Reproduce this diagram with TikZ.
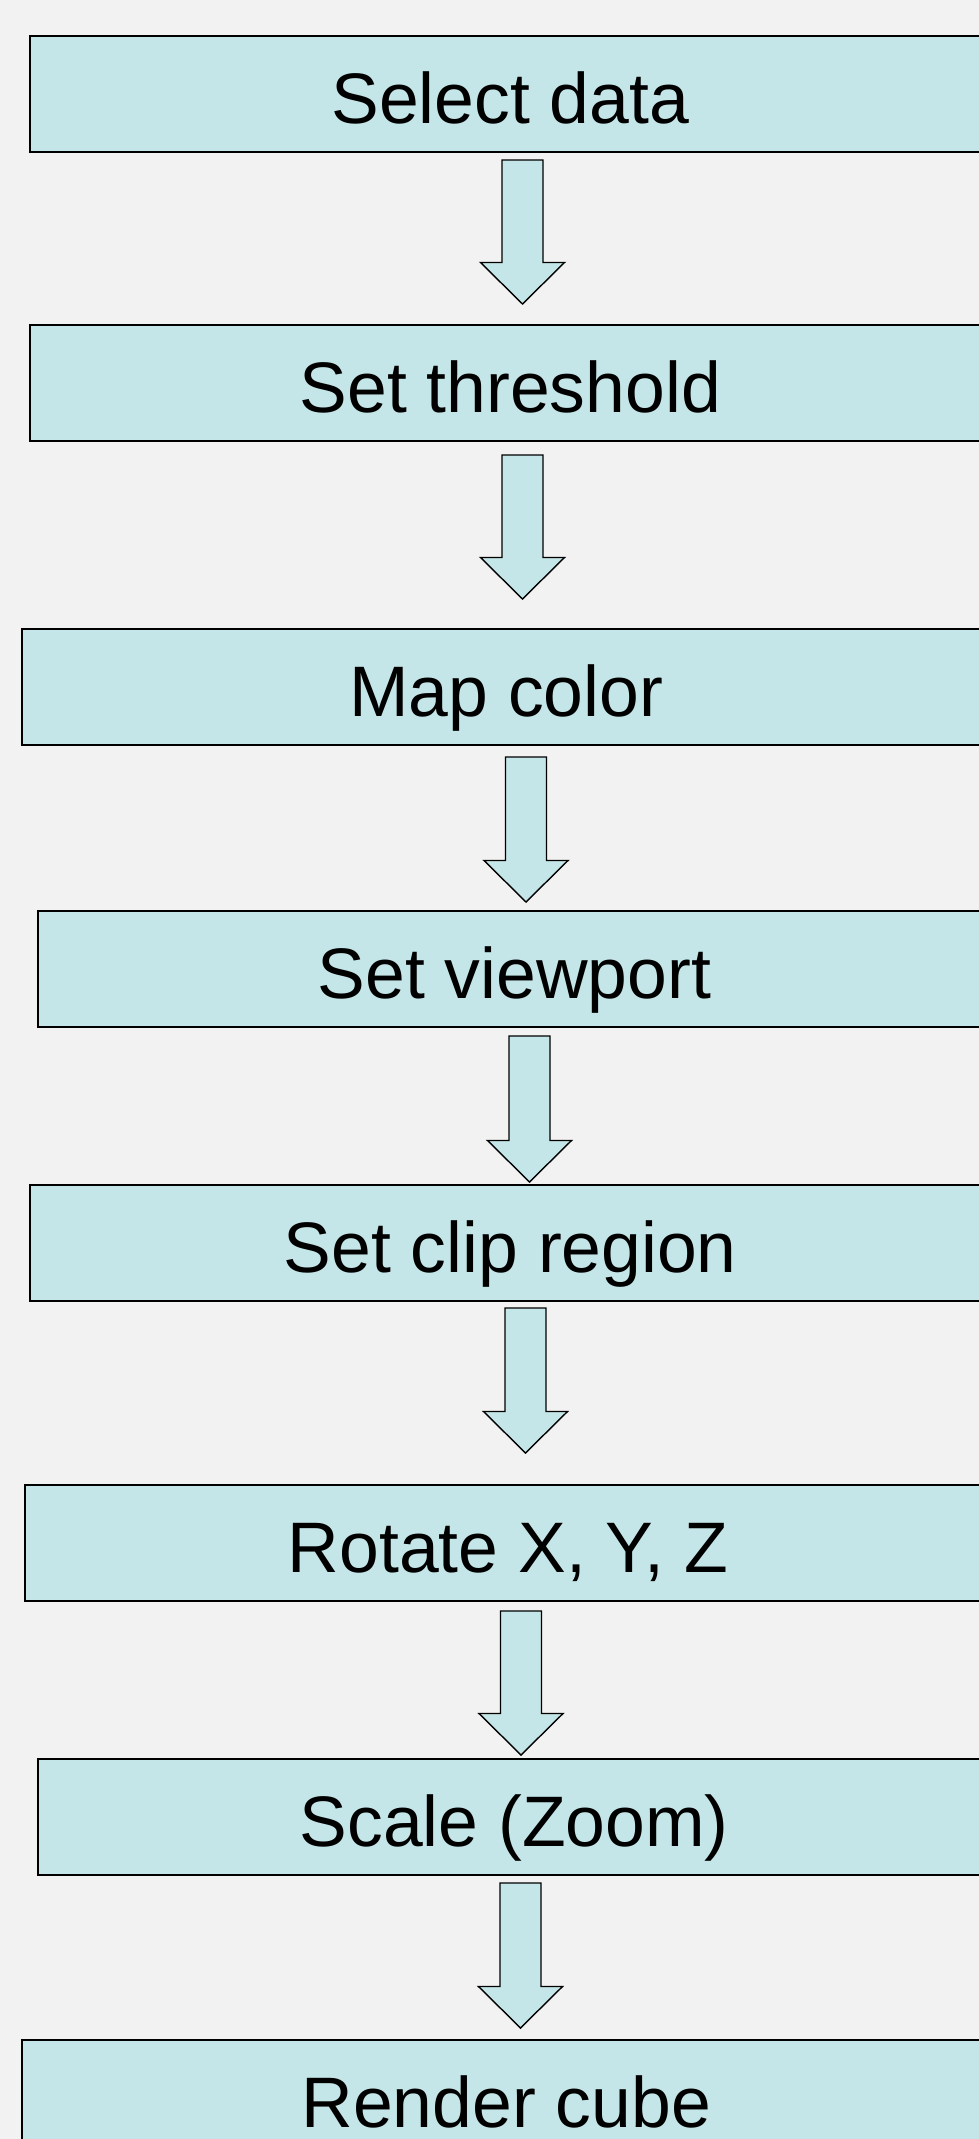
\documentclass[tikz,border=0pt]{standalone}
\usepackage{fontspec}
\setmainfont{Liberation Sans}
\usetikzlibrary{calc}
\definecolor{bgcol}{HTML}{F2F2F2}
\definecolor{boxfill}{HTML}{C5E6E8}
\tikzset{
  stepbox/.style={draw=black, line width=1.6pt, fill=boxfill, anchor=north west,
    minimum height=116pt, inner sep=0pt, text height=60pt, text depth=1.5pt,
    font=\fontsize{71.5}{86}\selectfont},
  blockarrow/.style={draw=black, line width=1.4pt, fill=boxfill, line join=miter}
}
\newcommand{\blockarr}[2]{%
  \draw[blockarrow] ($(#1)+(-20.5,0)$) -- ($(#1)+(20.5,0)$) -- ($(#2)+(20.5,-41.5)$)
    -- ($(#2)+(42,-41.5)$) -- (#2) -- ($(#2)+(-42,-41.5)$) -- ($(#2)+(-20.5,-41.5)$) -- cycle;}
\begin{document}
\begin{tikzpicture}[x=1pt,y=-1pt]
\useasboundingbox (0,0) rectangle (979,2139);
\clip (0,0) rectangle (979,2139);
\fill[bgcol] (0,0) rectangle (979,2139);
% boxes
\node[stepbox, minimum width=961pt] (b1) at (29,35) {Select data};
\node[stepbox, minimum width=961pt] (b2) at (29,324) {Set threshold};
\node[stepbox, minimum width=969pt] (b3) at (21,628) {Map color};
\node[stepbox, minimum width=953pt] (b4) at (37,910) {Set viewport};
\node[stepbox, minimum width=961pt] (b5) at (29,1184) {Set clip region};
\node[stepbox, minimum width=966pt] (b6) at (24,1484) {Rotate X, Y, Z};
\node[stepbox, minimum width=953pt] (b7) at (37,1758) {Scale (Zoom)};
\node[stepbox, minimum width=969pt] (b8) at (21,2039) {Render cube};
% arrow end points
\coordinate (a1s) at (522.5,160);  \coordinate (a1t) at (522.5,304);
\coordinate (a2s) at (522.5,455);  \coordinate (a2t) at (522.5,599);
\coordinate (a3s) at (526,757);    \coordinate (a3t) at (526,902);
\coordinate (a4s) at (529.5,1036); \coordinate (a4t) at (529.5,1182);
\coordinate (a5s) at (525.5,1308); \coordinate (a5t) at (525.5,1453);
\coordinate (a6s) at (521,1611);   \coordinate (a6t) at (521,1755);
\coordinate (a7s) at (520.5,1883); \coordinate (a7t) at (520.5,2028);
\blockarr{a1s}{a1t}
\blockarr{a2s}{a2t}
\blockarr{a3s}{a3t}
\blockarr{a4s}{a4t}
\blockarr{a5s}{a5t}
\blockarr{a6s}{a6t}
\blockarr{a7s}{a7t}
\end{tikzpicture}
\end{document}
